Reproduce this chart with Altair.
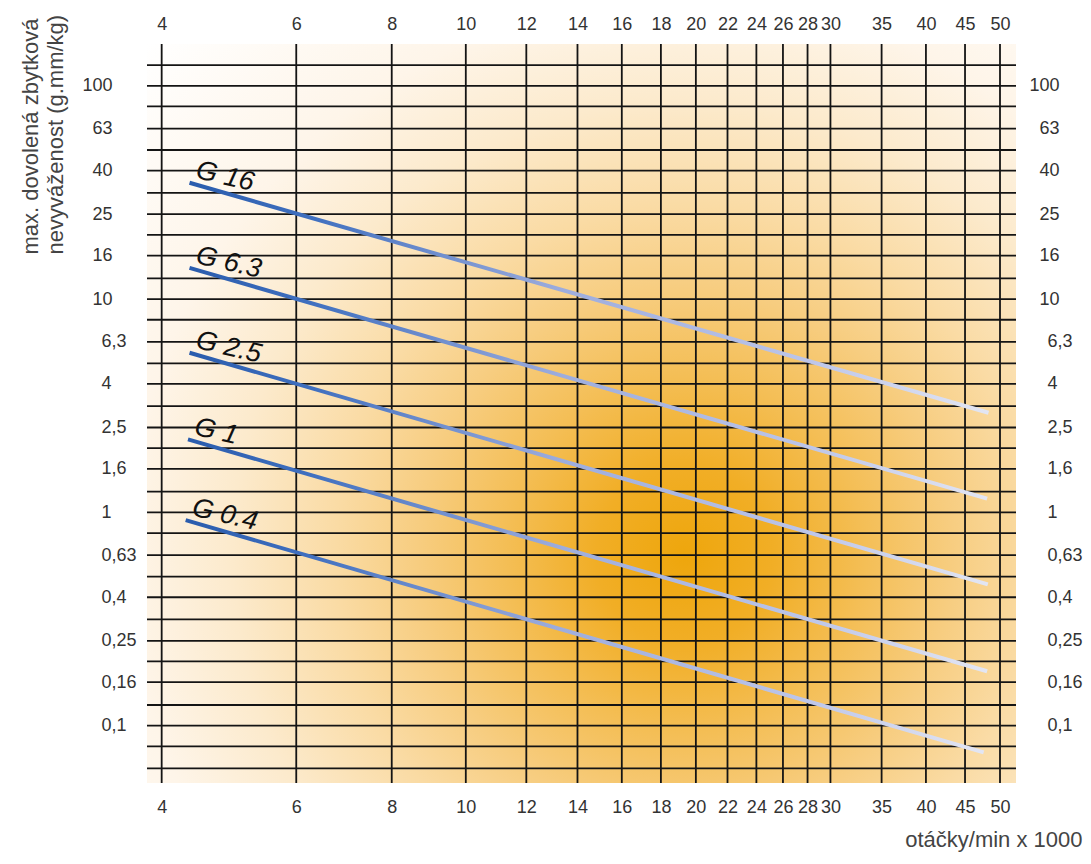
import altair as alt
import pandas as pd

# ---------------- data ----------------
x_ticks = [4, 6, 8, 10, 12, 14, 16, 18, 20, 22, 24, 26, 28, 30, 35, 40, 45, 50]
y_grid = [125, 100, 80, 63, 50, 40, 31.5, 25, 20, 16, 12.5, 10, 8, 6.3, 5, 4,
          3.15, 2.5, 2, 1.6, 1.25, 1, 0.8, 0.63, 0.5, 0.4, 0.315, 0.25, 0.2,
          0.16, 0.125, 0.1, 0.08, 0.063]
y_labels_big = [100, 63, 40, 25, 16, 10]
y_labels_small = [6.3, 4, 2.5, 1.6, 1, 0.63, 0.4, 0.25, 0.16, 0.1]

grades = ["G 16", "G 6.3", "G 2.5", "G 1", "G 0.4"]
rpm_start = [4.35, 4.35, 4.35, 4.33, 4.30]
e_start = [35.1, 14.0, 5.6, 2.2, 0.92]
rpm_end = [48.3, 48.1, 48.2, 48.1, 47.6]
e_end = [2.93, 1.16, 0.46, 0.18, 0.075]

x_title = "otáčky/min x 1000"
y_title = ["max. dovolená zbytková", "nevyváženost (g.mm/kg)"]

# ---------------- tables ----------------
df_x = pd.DataFrame({"rpm": x_ticks})
df_y = pd.DataFrame({"e": y_grid})
rows = []
for g, xs0, ys0, xs1, ys1 in zip(grades, rpm_start, e_start, rpm_end, e_end):
    rows.append({"grade": g, "rpm": xs0, "e": ys0})
    rows.append({"grade": g, "rpm": xs1, "e": ys1})
df_lines = pd.DataFrame(rows)
df_labels = pd.DataFrame({"grade": grades, "rpm": rpm_start, "e": e_start})

# ---------------- styling ----------------
FONT = "Liberation Sans"
GRID = "#141414"
LABEL_EXPR = "replace(toString(datum.value), '.', ',')"

x_scale = alt.Scale(type="log", domain=[3.827, 52.47], nice=False)
y_scale = alt.Scale(type="log", domain=[0.05385, 157.0], nice=False)

BG = {
    "gradient": "radial",
    "x1": 0.619, "y1": 0.663, "r1": 0,
    "x2": 0.619, "y2": 0.663, "r2": 0.854,
    "stops": [
        {"offset": 0.0, "color": "#EEA60C"},
        {"offset": 0.12, "color": "#F1AE26"},
        {"offset": 0.24, "color": "#F4BE55"},
        {"offset": 0.36, "color": "#F7CD80"},
        {"offset": 0.47, "color": "#FADBA4"},
        {"offset": 0.61, "color": "#FCEACC"},
        {"offset": 0.75, "color": "#FEF5E9"},
        {"offset": 1.0, "color": "#FFFFFF"},
    ],
}

LINE_GRAD = {
    "gradient": "linear",
    "x1": 0, "y1": 0, "x2": 1, "y2": 0,
    "stops": [
        {"offset": 0.0, "color": "#2A5CAD"},
        {"offset": 0.15, "color": "#3F6FBF"},
        {"offset": 0.47, "color": "#9EADDD"},
        {"offset": 0.77, "color": "#BCC5E9"},
        {"offset": 1.0, "color": "#E3E6F3"},
    ],
}


def axis(orient, values, **kw):
    base = dict(orient=orient, values=values, grid=False, ticks=False, tickSize=0,
                domain=False, labelFont=FONT, labelFontSize=18, labelColor="#333333",
                labelOverlap=False, labelFlush=False, labelBaseline="middle",
                labelExpr=LABEL_EXPR, title=None)
    base.update(kw)
    return alt.Axis(**base)


TITLE_STYLE = dict(titleFont=FONT, titleFontSize=22, titleFontWeight="normal",
                   titleColor="#444444")

bg = alt.Chart(pd.DataFrame({"k": [0]})).mark_rect(fill=BG).encode(
    x=alt.value(0), x2=alt.value("width"), y=alt.value(0), y2=alt.value("height")
)

vr_bottom = alt.Chart(df_x).mark_rule(color=GRID, strokeWidth=1.8).encode(
    x=alt.X("rpm:Q", scale=x_scale,
            axis=axis("bottom", x_ticks, labelAlign="center", labelPadding=24,
                      title=x_title, titleX=935, titleY=56, titleAlign="right",
                      titleBaseline="middle", titleAngle=0, **TITLE_STYLE))
)
vr_top = alt.Chart(df_x).mark_rule(opacity=0).encode(
    x=alt.X("rpm:Q", scale=x_scale,
            axis=axis("top", x_ticks, labelAlign="center", labelPadding=20))
)

hr_left_big = alt.Chart(df_y).mark_rule(color=GRID, strokeWidth=1.8).encode(
    y=alt.Y("e:Q", scale=y_scale,
            axis=axis("left", y_labels_big, labelAlign="right", labelPadding=35,
                      title=y_title, titleAngle=270, titleAlign="left",
                      titleBaseline="middle", titleX=-117, titleY=210,
                      titleLineHeight=25, **TITLE_STYLE))
)
hr_left_small = alt.Chart(df_y).mark_rule(opacity=0).encode(
    y=alt.Y("e:Q", scale=y_scale,
            axis=axis("left", y_labels_small, labelAlign="left", labelPadding=46))
)
hr_right_big = alt.Chart(df_y).mark_rule(opacity=0).encode(
    y=alt.Y("e:Q", scale=y_scale,
            axis=axis("right", y_labels_big, labelAlign="right", labelPadding=43))
)
hr_right_small = alt.Chart(df_y).mark_rule(opacity=0).encode(
    y=alt.Y("e:Q", scale=y_scale,
            axis=axis("right", y_labels_small, labelAlign="left", labelPadding=31))
)

lines = alt.Chart(df_lines).mark_line(stroke=LINE_GRAD, strokeWidth=4).encode(
    x=alt.X("rpm:Q", scale=x_scale, axis=None),
    y=alt.Y("e:Q", scale=y_scale, axis=None),
    detail="grade:N",
)

labels = alt.Chart(df_labels).mark_text(
    align="left", baseline="alphabetic", angle=13, dx=4, dy=-6,
    font=FONT, fontSize=27, fontStyle="italic", color="#111111"
).encode(
    x=alt.X("rpm:Q", scale=x_scale, axis=None),
    y=alt.Y("e:Q", scale=y_scale, axis=None),
    text="grade:N",
)

chart = alt.layer(
    bg, vr_bottom, vr_top, hr_left_big, hr_left_small, hr_right_big,
    hr_right_small, lines, labels
).resolve_axis(x="independent", y="independent").properties(
    width=869, height=739,
    padding={"left": 139, "top": 36, "right": 67, "bottom": 69},
    autosize=alt.AutoSizeParams(type="none"),
).configure_view(strokeWidth=0)

chart.save("out.html", embed_options={"renderer": "svg", "actions": False})
